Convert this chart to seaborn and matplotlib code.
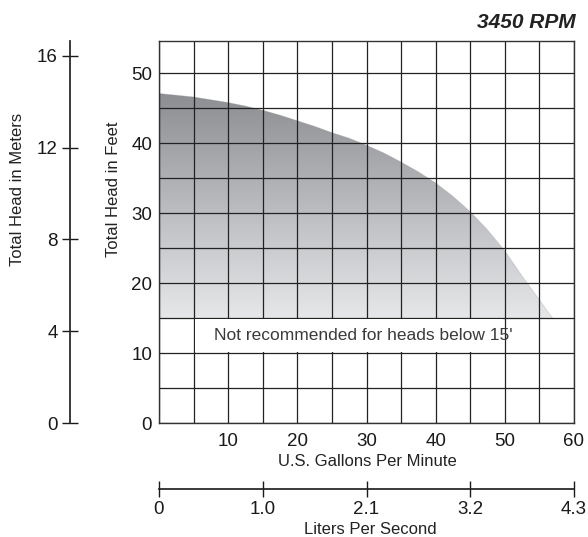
import numpy as np
import matplotlib
matplotlib.use("Agg")
import matplotlib.pyplot as plt
from matplotlib.colors import LinearSegmentedColormap
from matplotlib.patches import Polygon, Rectangle
import seaborn as sns

# pump curve
gpm = [0, 5, 10, 12.5, 15, 17.5, 20, 22.5, 25, 27.5, 30, 32.5, 35, 37.5,
       40, 42.5, 45, 47.5, 50, 52.5, 55, 56, 56.9]
head_ft = [47.1, 46.6, 45.8, 45.3, 44.7, 44.0, 43.2, 42.4, 41.5, 40.7, 39.7, 38.6, 37.3, 35.9,
           34.3, 32.4, 30.2, 27.6, 24.6, 21.0, 17.6, 16.2, 15.0]
min_head = 15

gpm_ticks = [0, 5, 10, 15, 20, 25, 30, 35, 40, 45, 50, 55, 60]
ft_ticks = [0, 5, 10, 15, 20, 25, 30, 35, 40, 45, 50]
m_ticks = [0, 4, 8, 12, 16]
lps_tick_gpm = [0, 15, 30, 45, 60]
lps_labels = ["0", "1.0", "2.1", "3.2", "4.3"]

sns.set_theme(style="white")
plt.rcParams['font.family'] = ['Liberation Sans', 'DejaVu Sans']

W, H = 588, 537
fig = plt.figure(figsize=(W / 100, H / 100), dpi=100)
fig.patch.set_facecolor("white")

ymax = 54.6
ax = fig.add_axes([159 / W, 114 / H, 415 / W, 382 / H])
ax.set_xlim(0, 60)
ax.set_ylim(0, ymax)

# gradient fill under the curve, above the 15' line
cmap = LinearSegmentedColormap.from_list("g", ["#e6e7e9", "#8c8e92"])
grad = np.linspace(0, 1, 256).reshape(-1, 1)
im = ax.imshow(grad, cmap=cmap, origin="lower", aspect="auto",
               extent=[0, max(gpm), min_head, max(head_ft)], zorder=1)
verts = list(zip(gpm, head_ft)) + [(max(gpm), min_head), (0, min_head)]
poly = Polygon(verts, closed=True, facecolor="none", edgecolor="none",
               transform=ax.transData)
ax.add_patch(poly)
im.set_clip_path(poly)
sns.lineplot(x=gpm, y=head_ft, ax=ax, color="#9a9ca0", lw=0.5, alpha=0.4, zorder=1)

ax.set_xticks(gpm_ticks)
ax.set_xticklabels([str(v) if v % 10 == 0 and v > 0 else "" for v in gpm_ticks])
ax.set_yticks(ft_ticks)
ax.set_yticklabels([str(v) if v % 10 == 0 else "" for v in ft_ticks])
ax.grid(True, color="#222222", lw=0.9)
ax.set_axisbelow("line")
ax.tick_params(length=0, labelsize=13.5, colors="#1a1a1a")
ax.tick_params(axis="y", pad=5)
ax.tick_params(axis="x", pad=7)
for s in ax.spines.values():
    s.set_visible(True)
    s.set_color("#333333")
    s.set_linewidth(1)

# white band for the note
ax.add_patch(Rectangle((5.2, 10.15), 44.6, 4.7, facecolor="white",
                       edgecolor="none", zorder=2))
ax.text(29.5, 12.5, "Not recommended for heads below 15'", ha="center", va="center",
        fontsize=12.5, color="#3a3a3a", zorder=3)

# meters axis
axm = fig.add_axes([70 / W, 114 / H, 0.0001, 382 / H])
axm.set_ylim(0, ymax / 3.281)
axm.set_yticks(m_ticks)
axm.set_xticks([])
axm.patch.set_visible(False)
for k, s in axm.spines.items():
    s.set_visible(k == "left")
axm.spines["left"].set_color("#222222")
axm.tick_params(axis="y", direction="inout", length=11, width=1, pad=3.5,
                labelsize=13.5, colors="#1a1a1a", left=True)

# liters per second axis
axl = fig.add_axes([159 / W, 48 / H, 415 / W, 0.0001])
axl.set_xlim(0, 60)
axl.set_xticks(lps_tick_gpm)
axl.set_xticklabels(lps_labels)
axl.set_yticks([])
axl.patch.set_visible(False)
for k, s in axl.spines.items():
    s.set_visible(k == "bottom")
axl.spines["bottom"].set_color("#222222")
axl.tick_params(axis="x", direction="inout", length=11, width=1, pad=3,
                labelsize=13.5, colors="#1a1a1a", bottom=True)

fig.text(18 / W, 1 - 189 / H, "Total Head in Meters", rotation=90, ha="center",
         va="center", fontsize=12, color="#222222")
fig.text(113 / W, 1 - 189 / H, "Total Head in Feet", rotation=90, ha="center",
         va="center", fontsize=12, color="#222222")
fig.text(367 / W, 1 - 462 / H, "U.S. Gallons Per Minute", ha="center", va="center",
         fontsize=12, color="#222222")
fig.text(370 / W, 1 - 530 / H, "Liters Per Second", ha="center", va="center",
         fontsize=12, color="#222222")
fig.text(576 / W, 1 - 22 / H, "3450 RPM", ha="right", va="center", fontsize=15,
         fontweight="bold", fontstyle="italic", color="#222222")

fig.savefig("out.png", dpi=100)
